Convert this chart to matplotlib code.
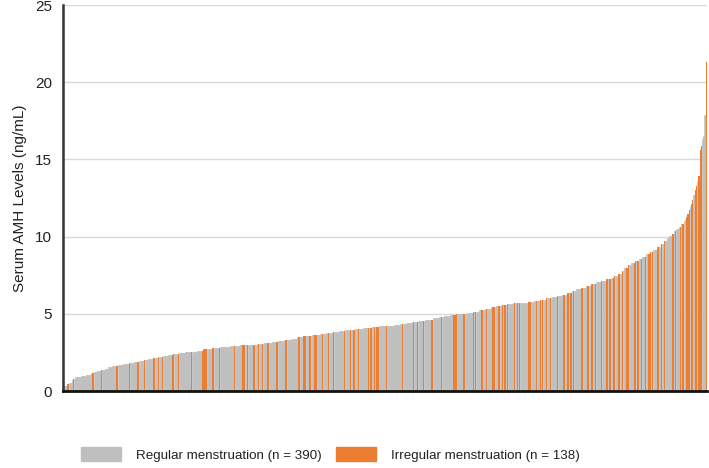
import numpy as np
import matplotlib.pyplot as plt
from matplotlib.patches import Patch

# niveis de AMH ordenados (valor, quantidade de barras com esse valor)
amh_valores = [0.30, 0.35, 0.45, 0.55, 0.70, 0.80, 0.88, 0.97, 1.02, 1.15,
               1.22, 1.30, 1.38, 1.45, 1.55, 1.65, 1.70, 1.75, 1.80, 1.88,
               1.95, 2.02, 2.10, 2.15, 2.22, 2.28, 2.35, 2.40, 2.45, 2.50,
               2.55, 2.60, 2.75, 2.80, 2.85, 2.90, 2.95, 3.00, 3.05, 3.12,
               3.18, 3.25, 3.30, 3.40, 3.48, 3.55, 3.60, 3.70, 3.78, 3.85,
               3.92, 3.98, 4.03, 4.08, 4.13, 4.18, 4.22, 4.28, 4.35, 4.42,
               4.48, 4.55, 4.62, 4.70, 4.78, 4.85, 4.92, 4.97, 5.02, 5.08,
               5.15, 5.25, 5.33, 5.42, 5.50, 5.57, 5.62, 5.67, 5.72, 5.78,
               5.84, 5.92, 6.00, 6.08, 6.15, 6.25, 6.35, 6.45, 6.58, 6.70,
               6.82, 6.95, 7.05, 7.15, 7.25, 7.35, 7.45, 7.60, 7.75, 7.95,
               8.15, 8.30, 8.45, 8.55, 8.70, 8.85, 9.00, 9.15, 9.30, 9.50,
               9.70, 9.90, 10.05, 10.20, 10.35, 10.50, 10.65, 10.80, 11.0, 11.15,
               11.3, 11.5, 11.7, 11.9, 12.1, 12.4, 12.7, 13.0, 13.3, 13.6,
               13.9, 15.6, 15.9, 16.3, 16.5, 17.9, 21.3]
amh_contagem = [1, 2, 2, 2, 1, 2, 5, 4, 4, 2,
                3, 3, 3, 3, 3, 5, 4, 5, 4, 4,
                4, 4, 4, 4, 4, 4, 4, 5, 5, 5,
                5, 5, 7, 7, 8, 8, 7, 7, 6, 6,
                5, 6, 5, 5, 5, 7, 7, 5, 5, 5,
                5, 8, 7, 7, 6, 6, 6, 5, 5, 5,
                5, 6, 6, 5, 4, 5, 5, 5, 4, 5,
                5, 5, 5, 4, 4, 5, 5, 6, 6, 5,
                5, 5, 5, 4, 4, 4, 4, 4, 4, 4,
                4, 4, 4, 4, 4, 3, 3, 3, 2, 3,
                3, 3, 3, 3, 3, 3, 3, 3, 3, 3,
                2, 2, 2, 2, 2, 2, 2, 2, 1, 1,
                1, 1, 1, 1, 1, 1, 1, 1, 1, 1,
                1, 1, 1, 1, 1, 1, 1]

# posicoes (na ordem) das pacientes com menstruacao irregular
irregulares = [3, 4, 8, 24, 31, 43, 44, 54, 61, 66, 74, 78, 81, 89, 90, 94,
               105, 114, 115, 116, 117, 122, 123, 128,
               140, 147, 148, 151, 156, 160, 163, 167, 168, 175, 182, 183,
               193, 197, 198, 202, 206, 207, 212, 217, 221, 230, 235, 238,
               242, 250,
               252, 255, 257, 258, 265, 278, 287, 290, 295, 302, 310, 320,
               321, 322, 328, 329, 336, 338, 343, 347, 352, 353, 357, 360,
               362, 364, 370,
               372, 374, 381, 382, 383, 388, 391, 393, 396, 399, 405, 410,
               411, 413, 414, 416, 418, 425, 430, 433, 434, 436, 441,
               445, 446, 448, 451, 452, 455, 456, 458, 462, 463, 468, 469,
               471, 474, 477, 480, 481, 483, 487, 488, 490, 493, 499, 500,
               502, 506, 508, 511, 512, 513, 515, 516, 518, 519, 521, 522,
               523, 527]

COR_REGULAR = '#BFBFBF'
COR_IRREGULAR = '#ED7D31'


def plotar_grafico():
    valores = np.repeat(amh_valores, amh_contagem)
    n = len(valores)
    cores = [COR_REGULAR] * n
    for i in irregulares:
        cores[i] = COR_IRREGULAR

    plt.rcParams['font.family'] = ['Liberation Sans', 'DejaVu Sans']
    fig = plt.figure(figsize=(7.09, 4.68), dpi=100)
    ax = fig.add_axes([0.089, 0.1645, 0.908, 0.8245])

    # barras cinzas primeiro, laranjas por cima
    x = np.arange(n)
    reg = np.array([c == COR_REGULAR for c in cores])
    ax.bar(x[reg], valores[reg], width=1.0, color=COR_REGULAR,
           edgecolor=COR_REGULAR, linewidth=0.5, zorder=2)
    ax.bar(x[~reg], valores[~reg], width=1.0, color=COR_IRREGULAR,
           linewidth=0, zorder=2.5)

    ax.set_xlim(-0.5, n - 0.5)
    ax.set_ylim(0, 25)
    ax.set_yticks([0, 5, 10, 15, 20, 25])
    ax.set_xticks([])
    ax.yaxis.grid(True, color='#D9D9D9', linewidth=1, zorder=0)
    ax.set_axisbelow(True)
    ax.tick_params(axis='y', length=0, labelsize=11, pad=8, colors='#222222')
    ax.set_ylabel('Serum AMH Levels (ng/mL)', fontsize=11, color='#222222', labelpad=6)

    for lado in ['top', 'right']:
        ax.spines[lado].set_visible(False)
    ax.spines['left'].set_color('#333333')
    ax.spines['left'].set_linewidth(1.8)
    ax.spines['bottom'].set_color('#111111')
    ax.spines['bottom'].set_linewidth(2)
    ax.spines['left'].set_zorder(3)
    ax.spines['bottom'].set_zorder(3)

    n_reg = n - len(irregulares)
    handles = [Patch(color=COR_REGULAR, label=f'Regular menstruation (n = {n_reg})'),
               Patch(color=COR_IRREGULAR, label=f'Irregular menstruation (n = {len(irregulares)})')]
    fig.legend(handles=handles, loc='center', bbox_to_anchor=(0.466, 0.029), ncol=2,
               frameon=False, fontsize=9.6, handlelength=3.0, handleheight=1.25,
               handletextpad=1.15, columnspacing=1.05, labelcolor='#222222')

    fig.savefig('out.png', dpi=100)


def main():
    plotar_grafico()


if __name__ == "__main__":
    main()
